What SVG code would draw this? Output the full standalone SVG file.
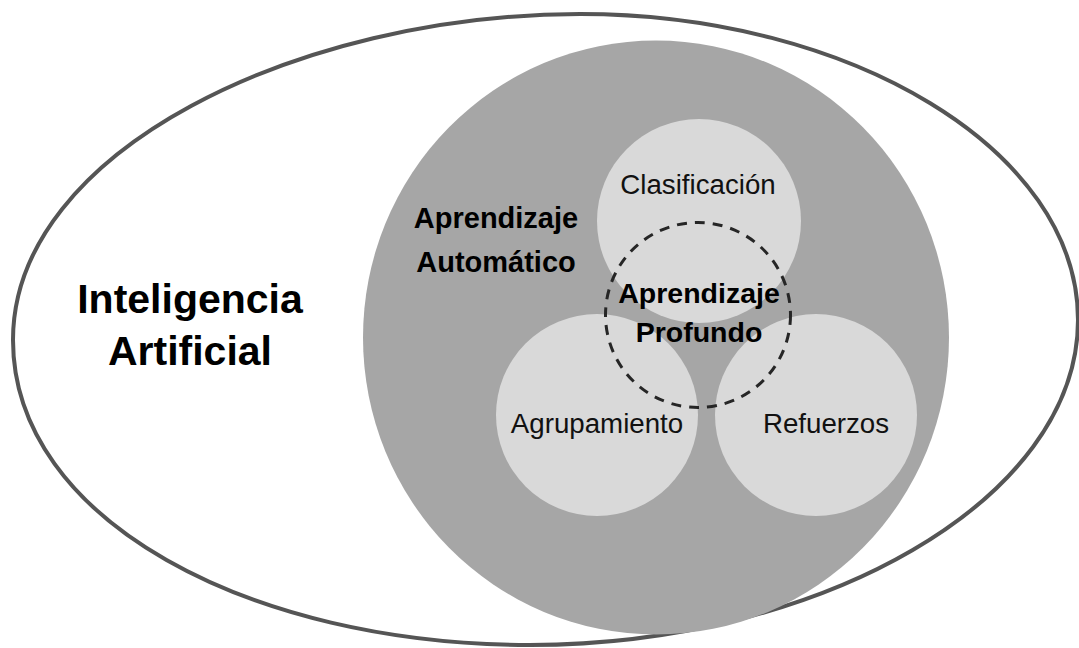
<svg xmlns="http://www.w3.org/2000/svg" width="1079" height="648" viewBox="0 0 1079 648">
  <style>
    .bold { font-family: "Liberation Sans", Arial, sans-serif; font-weight: bold; fill: #000; text-anchor: middle; }
    .reg { font-family: "Liberation Sans", Arial, sans-serif; font-weight: normal; fill: #111; text-anchor: middle; font-size: 27.7px; }
    .sub { fill: #d9d9d9; }
  </style>
  <rect width="1079" height="648" fill="#ffffff"/>
  <g id="ia">
    <path d="M 13,340 C 13,150 300,14 580,14 C 850,14 1078,150 1078,320 C 1078,500 820,645 530,645 C 250,645 13,520 13,340 Z" fill="#ffffff" stroke="#555555" stroke-width="4"/>
    <text class="bold" font-size="41" x="190" y="313">Inteligencia</text>
    <text class="bold" font-size="41" x="190" y="365">Artificial</text>
  </g>
  <g id="ml">
    <ellipse cx="656" cy="337.5" rx="293" ry="297" fill="#a6a6a6"/>
    <text class="bold" font-size="29" x="496" y="228">Aprendizaje</text>
    <text class="bold" font-size="29" x="496" y="272">Automático</text>
  </g>
  <g id="clasificacion">
    <circle class="sub" cx="699" cy="221" r="102"/>
    <text class="reg" x="698" y="194">Clasificación</text>
  </g>
  <g id="agrupamiento">
    <circle class="sub" cx="597" cy="415" r="101"/>
    <text class="reg" x="597" y="433">Agrupamiento</text>
  </g>
  <g id="refuerzos">
    <circle class="sub" cx="816" cy="415" r="101"/>
    <text class="reg" x="826" y="433">Refuerzos</text>
  </g>
  <g id="dl">
    <circle cx="698" cy="315" r="92.5" fill="none" stroke="#262626" stroke-width="3" stroke-dasharray="10 8"/>
    <text class="bold" font-size="28.5" x="699" y="303">Aprendizaje</text>
    <text class="bold" font-size="28.5" x="699" y="342">Profundo</text>
  </g>
  <g id="connectors"/>
</svg>
